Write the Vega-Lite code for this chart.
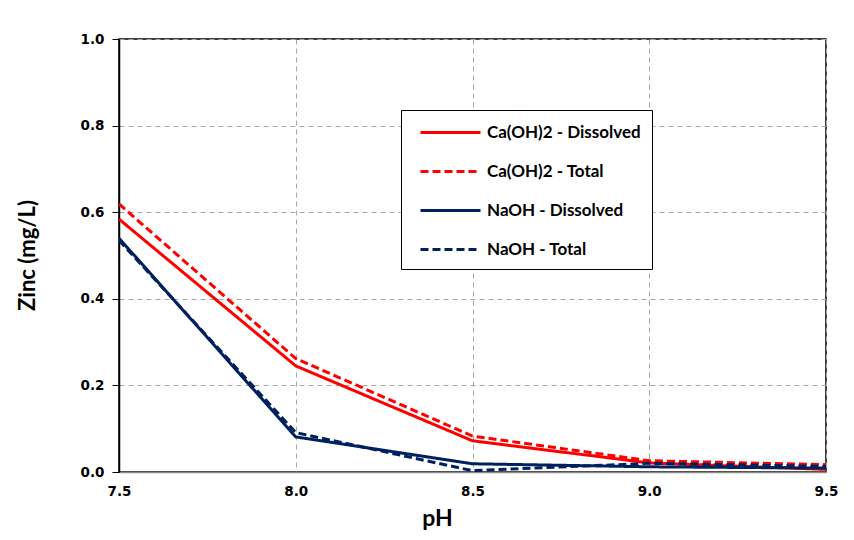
{
  "$schema": "https://vega.github.io/schema/vega-lite/v6.json",
  "width": 707,
  "height": 433,
  "autosize": {"type": "none"},
  "padding": {"left": 119, "top": 39, "right": 28, "bottom": 68},
  "background": "white",
  "config": {
    "font": "Lato",
    "view": {"stroke": "black", "strokeWidth": 1.5}
  },
  "data": {
    "values": [
      {"pH": 7.5, "series": "Ca(OH)2 - Dissolved", "zinc": 0.584},
      {"pH": 8.0, "series": "Ca(OH)2 - Dissolved", "zinc": 0.245},
      {"pH": 8.5, "series": "Ca(OH)2 - Dissolved", "zinc": 0.072},
      {"pH": 9.0, "series": "Ca(OH)2 - Dissolved", "zinc": 0.021},
      {"pH": 9.5, "series": "Ca(OH)2 - Dissolved", "zinc": 0.006},
      {"pH": 7.5, "series": "Ca(OH)2 - Total", "zinc": 0.619},
      {"pH": 8.0, "series": "Ca(OH)2 - Total", "zinc": 0.262},
      {"pH": 8.5, "series": "Ca(OH)2 - Total", "zinc": 0.083},
      {"pH": 9.0, "series": "Ca(OH)2 - Total", "zinc": 0.026},
      {"pH": 9.5, "series": "Ca(OH)2 - Total", "zinc": 0.017},
      {"pH": 7.5, "series": "NaOH - Dissolved", "zinc": 0.540},
      {"pH": 8.0, "series": "NaOH - Dissolved", "zinc": 0.081},
      {"pH": 8.5, "series": "NaOH - Dissolved", "zinc": 0.019},
      {"pH": 9.0, "series": "NaOH - Dissolved", "zinc": 0.012},
      {"pH": 9.5, "series": "NaOH - Dissolved", "zinc": 0.009},
      {"pH": 7.5, "series": "NaOH - Total", "zinc": 0.535},
      {"pH": 8.0, "series": "NaOH - Total", "zinc": 0.091},
      {"pH": 8.5, "series": "NaOH - Total", "zinc": 0.003},
      {"pH": 9.0, "series": "NaOH - Total", "zinc": 0.020},
      {"pH": 9.5, "series": "NaOH - Total", "zinc": 0.013}
    ]
  },
  "mark": {"type": "line", "strokeWidth": 3, "clip": true},
  "encoding": {
    "x": {
      "field": "pH", "type": "quantitative",
      "scale": {"domain": [7.5, 9.5], "nice": false, "zero": false},
      "axis": {
        "values": [7.5, 8.0, 8.5, 9.0, 9.5],
        "format": ".1f",
        "title": "pH",
        "titleFontSize": 23, "titleFontWeight": "bold", "titleColor": "black",
        "titleX": 318, "titleY": 53, "titleBaseline": "alphabetic",
        "labelFont": "DejaVu Sans", "labelFontSize": 13.5, "labelFontWeight": "bold", "labelColor": "black",
        "labelPadding": 12, "labelFlush": false,
        "ticks": false,
        "domainColor": "#8c8c8c", "domainWidth": 1.5,
        "grid": true, "gridColor": "#a6a6a6", "gridDash": [5, 4], "gridWidth": 1
      }
    },
    "y": {
      "field": "zinc", "type": "quantitative",
      "scale": {"domain": [0, 1], "nice": false},
      "axis": {
        "values": [0, 0.2, 0.4, 0.6, 0.8, 1.0],
        "format": ".1f",
        "title": "Zinc (mg/L)",
        "titleFontSize": 22, "titleFontWeight": "bold", "titleColor": "black",
        "titleX": -92, "titleY": 216, "titleBaseline": "middle", "titleAngle": 270,
        "labelFont": "DejaVu Sans", "labelFontSize": 13.5, "labelFontWeight": "bold", "labelColor": "black",
        "labelPadding": 8, "labelFlush": false,
        "tickSize": 7, "tickColor": "black", "tickWidth": 1,
        "domainColor": "black", "domainWidth": 1.5,
        "grid": true, "gridColor": "#a6a6a6", "gridDash": [5, 4], "gridWidth": 1
      }
    },
    "color": {
      "field": "series", "type": "nominal",
      "scale": {
        "domain": ["Ca(OH)2 - Dissolved", "Ca(OH)2 - Total", "NaOH - Dissolved", "NaOH - Total"],
        "range": ["#ff0000", "#ff0000", "#002060", "#002060"]
      },
      "legend": {
        "title": null,
        "orient": "none",
        "legendX": 282, "legendY": 71,
        "strokeColor": "black", "fillColor": "white",
        "padding": 11,
        "symbolType": "M-3,0H3", "symbolSize": 400, "symbolStrokeWidth": 3,
        "symbolOffset": 27,
        "labelFontSize": 17, "labelFontWeight": "bold", "labelColor": "black",
        "labelOffset": 25, "rowPadding": 19
      }
    },
    "strokeDash": {
      "field": "series", "type": "nominal",
      "scale": {
        "domain": ["Ca(OH)2 - Dissolved", "Ca(OH)2 - Total", "NaOH - Dissolved", "NaOH - Total"],
        "range": [[1, 0], [8, 4], [1, 0], [8, 4]]
      },
      "legend": null
    }
  }
}
